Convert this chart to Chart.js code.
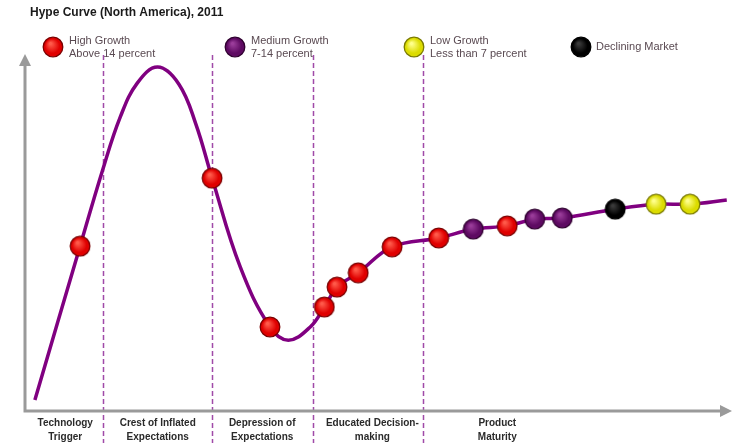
<!DOCTYPE html>
<html>
<head>
<meta charset="utf-8">
<script src="https://cdn.jsdelivr.net/npm/chart.js@4/dist/chart.umd.min.js"></script>
<style>
  body { margin: 0; background: #fff; }
  #wrap { width: 732px; height: 443px; }
</style>
</head>
<body>
<div id="wrap"><canvas id="hype" width="732" height="443"></canvas></div>
<script>
// hype curve, x = time (0-100), y = expectations (0-100)
const curveX = [1.4, 7.8, 11.0, 13.5, 15.9, 18.8, 21.8, 24.2, 26.5, 30.5, 34.7, 37.3, 40.4, 42.4, 44.2, 47.2, 52.0, 58.6, 63.5, 68.3, 72.2, 76.1, 83.6, 89.4, 94.2, 99.4];
const curveY = [3.1, 46.3, 67.7, 82.6, 92.1, 96.6, 91.8, 80.6, 65.4, 40.4, 23.6, 19.9, 23.6, 29.2, 34.8, 38.8, 46.1, 48.6, 51.1, 52.0, 53.9, 54.2, 56.7, 58.1, 58.1, 59.3];

// markets placed on the curve, with growth group
const marketX = [7.8, 26.5, 34.7, 42.4, 44.2, 47.2, 52.0, 58.6, 63.5, 68.3, 72.2, 76.1, 83.6, 89.4, 94.2];
const marketY = [46.3, 65.4, 23.6, 29.2, 34.8, 38.8, 46.1, 48.6, 51.1, 52.0, 53.9, 54.2, 56.7, 58.1, 58.1];
const marketGroup = ['high', 'high', 'high', 'high', 'high', 'high', 'high', 'high', 'medium', 'high', 'medium', 'medium', 'declining', 'low', 'low'];

const groupKeys = ['high', 'medium', 'low', 'declining'];
const groupLabels = [['High Growth', 'Above 14 percent'], ['Medium Growth', '7-14 percent'], ['Low Growth', 'Less than 7 percent'], ['Declining Market']];

// phase boundaries and phase names along the time axis
const phaseBreaks = [11.0, 26.5, 40.8, 56.4];
const phaseCenters = [5.7, 18.8, 33.6, 49.2, 66.9];
const phaseLabels = [['Technology', 'Trigger'], ['Crest of Inflated', 'Expectations'], ['Depression of', 'Expectations'], ['Educated Decision-', 'making'], ['Product', 'Maturity']];

const ballColors = {
  high: ['#ff5a4a', '#e00000', '#7a0000'],
  medium: ['#9a3c9a', '#5e0a62', '#300030'],
  low: ['#ffff8a', '#dcdc00', '#7a7a00'],
  declining: ['#3a3a3a', '#000000', '#000000']
};

function makeBall(key) {
  const c = document.createElement('canvas');
  c.width = 22; c.height = 22;
  const g = c.getContext('2d');
  const col = ballColors[key];
  const grad = g.createRadialGradient(8.5, 7.5, 1, 11, 11, 10);
  grad.addColorStop(0, col[0]);
  grad.addColorStop(0.7, col[1]);
  grad.addColorStop(1, col[1]);
  g.beginPath();
  g.arc(11, 11, 9.8, 0, Math.PI * 2);
  g.fillStyle = grad;
  g.fill();
  g.lineWidth = 1.3;
  g.strokeStyle = col[2];
  g.stroke();
  return c;
}
const balls = {};
groupKeys.forEach(k => { balls[k] = makeBall(k); });

const hypeDecor = {
  id: 'hypeDecor',
  beforeDatasetsDraw(chart) {
    const ctx = chart.ctx;
    const xs = chart.scales.x, ys = chart.scales.y;
    const x0 = xs.getPixelForValue(0), y0 = ys.getPixelForValue(0);
    const xEnd = xs.getPixelForValue(100), yTop = ys.getPixelForValue(100);
    ctx.save();
    // phase dividers
    ctx.strokeStyle = '#a04aa8';
    ctx.lineWidth = 1.5;
    ctx.setLineDash([5, 3]);
    phaseBreaks.forEach(v => {
      const px = Math.round(xs.getPixelForValue(v)) + 0.5;
      ctx.beginPath();
      ctx.moveTo(px, yTop);
      ctx.lineTo(px, chart.height);
      ctx.stroke();
    });
    ctx.setLineDash([]);
    // axes with arrow heads
    ctx.strokeStyle = '#9a9a9a';
    ctx.fillStyle = '#9a9a9a';
    ctx.lineWidth = 3;
    ctx.beginPath();
    ctx.moveTo(x0, yTop + 6);
    ctx.lineTo(x0, y0);
    ctx.lineTo(xEnd - 6, y0);
    ctx.stroke();
    ctx.beginPath();
    ctx.moveTo(x0, yTop - 1);
    ctx.lineTo(x0 - 6, yTop + 11);
    ctx.lineTo(x0 + 6, yTop + 11);
    ctx.closePath();
    ctx.fill();
    ctx.beginPath();
    ctx.moveTo(xEnd + 1, y0);
    ctx.lineTo(xEnd - 11, y0 - 6);
    ctx.lineTo(xEnd - 11, y0 + 6);
    ctx.closePath();
    ctx.fill();
    ctx.restore();
  },
  afterDraw(chart) {
    const ctx = chart.ctx;
    const xs = chart.scales.x;
    ctx.save();
    // title
    ctx.fillStyle = '#1a1a1a';
    ctx.font = 'bold 12px "Liberation Sans", Arial, sans-serif';
    ctx.textBaseline = 'middle';
    ctx.textAlign = 'left';
    ctx.fillText('Hype Curve (North America), 2011', 30, 13);
    // legend
    const legendX = [53, 235, 414, 581];
    ctx.font = '11px "Liberation Sans", Arial, sans-serif';
    ctx.fillStyle = '#5a4a52';
    groupKeys.forEach((k, i) => {
      ctx.drawImage(balls[k], legendX[i] - 11, 47 - 11);
      const lines = groupLabels[i];
      if (lines.length === 1) {
        ctx.fillText(lines[0], legendX[i] + 15, 47);
      } else {
        ctx.fillText(lines[0], legendX[i] + 16, 41);
        ctx.fillText(lines[1], legendX[i] + 16, 54);
      }
    });
    // phase names under the time axis
    ctx.fillStyle = '#2a2a2a';
    ctx.font = 'bold 10px "Liberation Sans Narrow", "Liberation Sans", Arial, sans-serif';
    ctx.textAlign = 'center';
    phaseLabels.forEach((lines, i) => {
      const px = xs.getPixelForValue(phaseCenters[i]);
      ctx.fillText(lines[0], px, 423);
      ctx.fillText(lines[1], px, 437);
    });
    ctx.restore();
  }
};

const curvePoints = curveX.map((x, i) => ({ x: x, y: curveY[i] }));
const marketPoints = marketX.map((x, i) => ({ x: x, y: marketY[i] }));

new Chart(document.getElementById('hype').getContext('2d'), {
  type: 'scatter',
  data: {
    datasets: [
      {
        label: 'Markets',
        data: marketPoints,
        pointStyle: marketGroup.map(g => balls[g]),
        pointRadius: 10,
        order: 0
      },
      {
        type: 'line',
        label: 'Hype Curve',
        data: curvePoints,
        borderColor: '#800080',
        borderWidth: 3.5,
        pointRadius: 0,
        tension: 0.4,
        fill: false,
        order: 1
      }
    ]
  },
  options: {
    responsive: false,
    animation: false,
    layout: { autoPadding: false, padding: { left: 25, right: 1, top: 55, bottom: 32 } },
    plugins: { legend: { display: false }, tooltip: { enabled: false } },
    scales: {
      x: { type: 'linear', min: 0, max: 100, display: false },
      y: { min: 0, max: 100, display: false }
    }
  },
  plugins: [hypeDecor]
});
</script>
</body>
</html>
